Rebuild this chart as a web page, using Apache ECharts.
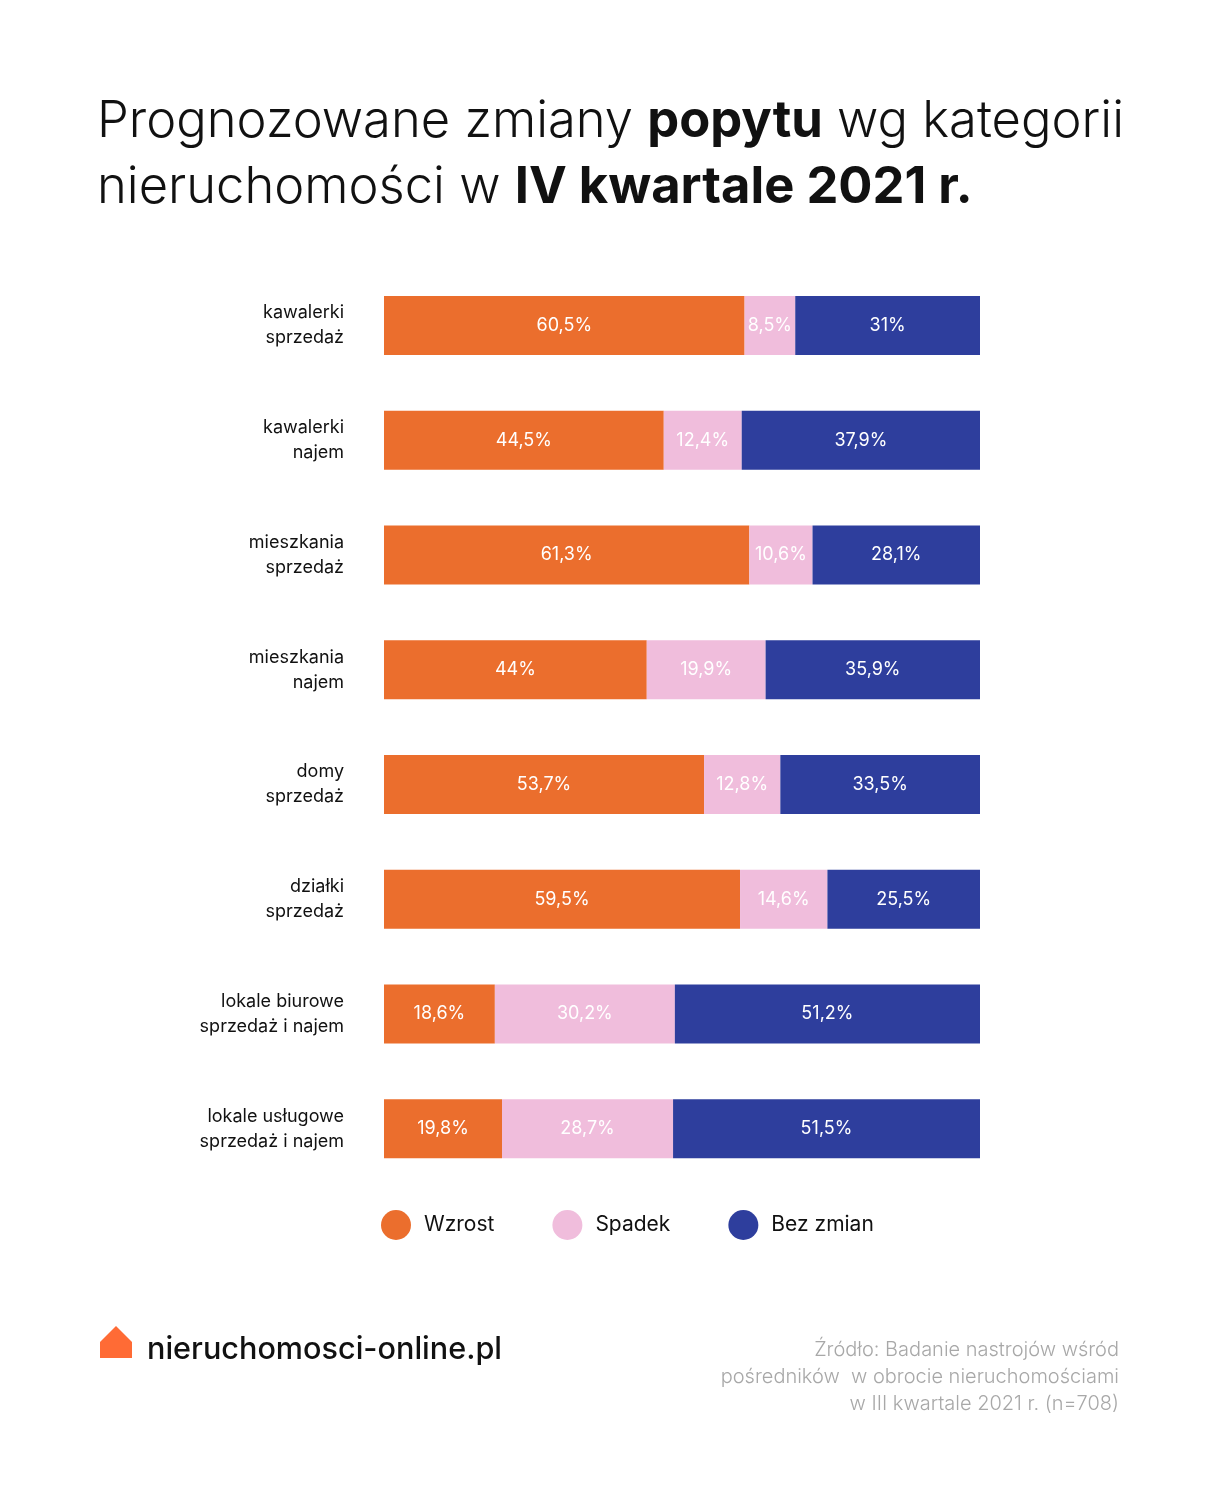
<!DOCTYPE html>
<html>
<head>
<meta charset="utf-8">
<script src="https://cdn.jsdelivr.net/npm/echarts@6/dist/echarts.min.js"></script>
<style>
html,body{margin:0;padding:0;background:#fff;}
#c{width:1230px;height:1500px;}
</style>
</head>
<body>
<div id="c"></div>
<script>
const categories = [
  'kawalerki\nsprzedaż',
  'kawalerki\nnajem',
  'mieszkania\nsprzedaż',
  'mieszkania\nnajem',
  'domy\nsprzedaż',
  'działki\nsprzedaż',
  'lokale biurowe\nsprzedaż i najem',
  'lokale usługowe\nsprzedaż i najem'
];
const wzrost   = [60.5, 44.5, 61.3, 44.0, 53.7, 59.5, 18.6, 19.8];
const spadek   = [8.5, 12.4, 10.6, 19.9, 12.8, 14.6, 30.2, 28.7];
const bezZmian = [31.0, 37.9, 28.1, 35.9, 33.5, 25.5, 51.2, 51.5];

const seriesNames = ['Wzrost', 'Spadek', 'Bez zmian'];
const colors = ['#EB6E2D', '#F0BDDC', '#2E3E9D'];

const FONT = 'Inter, "Noto Sans", sans-serif';
const totals = wzrost.map((v, i) => v + spadek[i] + bezZmian[i]);
const raw = [wzrost, spadek, bezZmian];

function fmt(v) {
  return String(v).replace('.', ',') + '%';
}

const series = raw.map((arr, si) => ({
  name: seriesNames[si],
  type: 'bar',
  stack: 'total',
  barWidth: 59,
  itemStyle: { color: colors[si] },
  emphasis: { disabled: true },
  label: {
    show: true,
    position: 'inside',
    color: '#fff',
    fontFamily: FONT,
    fontSize: 18,
    formatter: p => fmt(arr[p.dataIndex])
  },
  data: arr.map((v, i) => v / totals[i] * 100)
}));

const chart = echarts.init(document.getElementById('c'), null, { renderer: 'canvas' });
chart.setOption({
  backgroundColor: '#fff',
  animation: false,
  title: {
    left: 92,
    top: 84,
    text: '{n|Prognozowane zmiany }{b|popytu}{n| wg kategorii}\n{n|nieruchomości w }{b|IV kwartale 2021 r.}',
    textStyle: {
      rich: {
        n: { fontFamily: FONT, fontSize: 50.7, fontWeight: 300, color: '#111', lineHeight: 66 },
        b: { fontFamily: FONT, fontSize: 50.7, fontWeight: 700, color: '#111', lineHeight: 66 }
      }
    }
  },
  legend: {
    left: 376,
    top: 1205,
    icon: 'circle',
    itemWidth: 30,
    itemHeight: 30,
    itemGap: 58,
    selectedMode: false,
    textStyle: { fontFamily: FONT, fontSize: 21, color: '#111', padding: [0, 0, 0, 8] },
    data: seriesNames
  },
  grid: { left: 384, right: 250, top: 268, height: 918, containLabel: false },
  xAxis: {
    type: 'value',
    min: 0,
    max: 100,
    show: false
  },
  yAxis: {
    type: 'category',
    inverse: true,
    data: categories,
    axisLine: { show: false },
    axisTick: { show: false },
    axisLabel: {
      margin: 40,
      align: 'right',
      fontFamily: FONT,
      fontSize: 18,
      lineHeight: 25,
      color: '#111'
    }
  },
  series: series,
  graphic: [
    {
      type: 'polygon',
      shape: { points: [[100, 1342], [116, 1326], [132, 1342], [132, 1358], [100, 1358]] },
      style: { fill: '#FF6B35' }
    },
    {
      type: 'text',
      left: 147,
      top: 1334,
      style: { text: 'nieruchomosci-online.pl', fontFamily: FONT, fontSize: 30.6, fontWeight: 500, fill: '#111' }
    },
    {
      type: 'text',
      x: 1119,
      y: 1336,
      style: {
        text: 'Źródło: Badanie nastrojów wśród\npośredników  w obrocie nieruchomościami\nw III kwartale 2021 r. (n=708)',
        align: 'right',
        verticalAlign: 'top',
        fontFamily: FONT,
        fontSize: 20,
        fontWeight: 300,
        lineHeight: 27,
        fill: '#A8A8A8'
      }
    }
  ]
});
</script>
</body>
</html>
